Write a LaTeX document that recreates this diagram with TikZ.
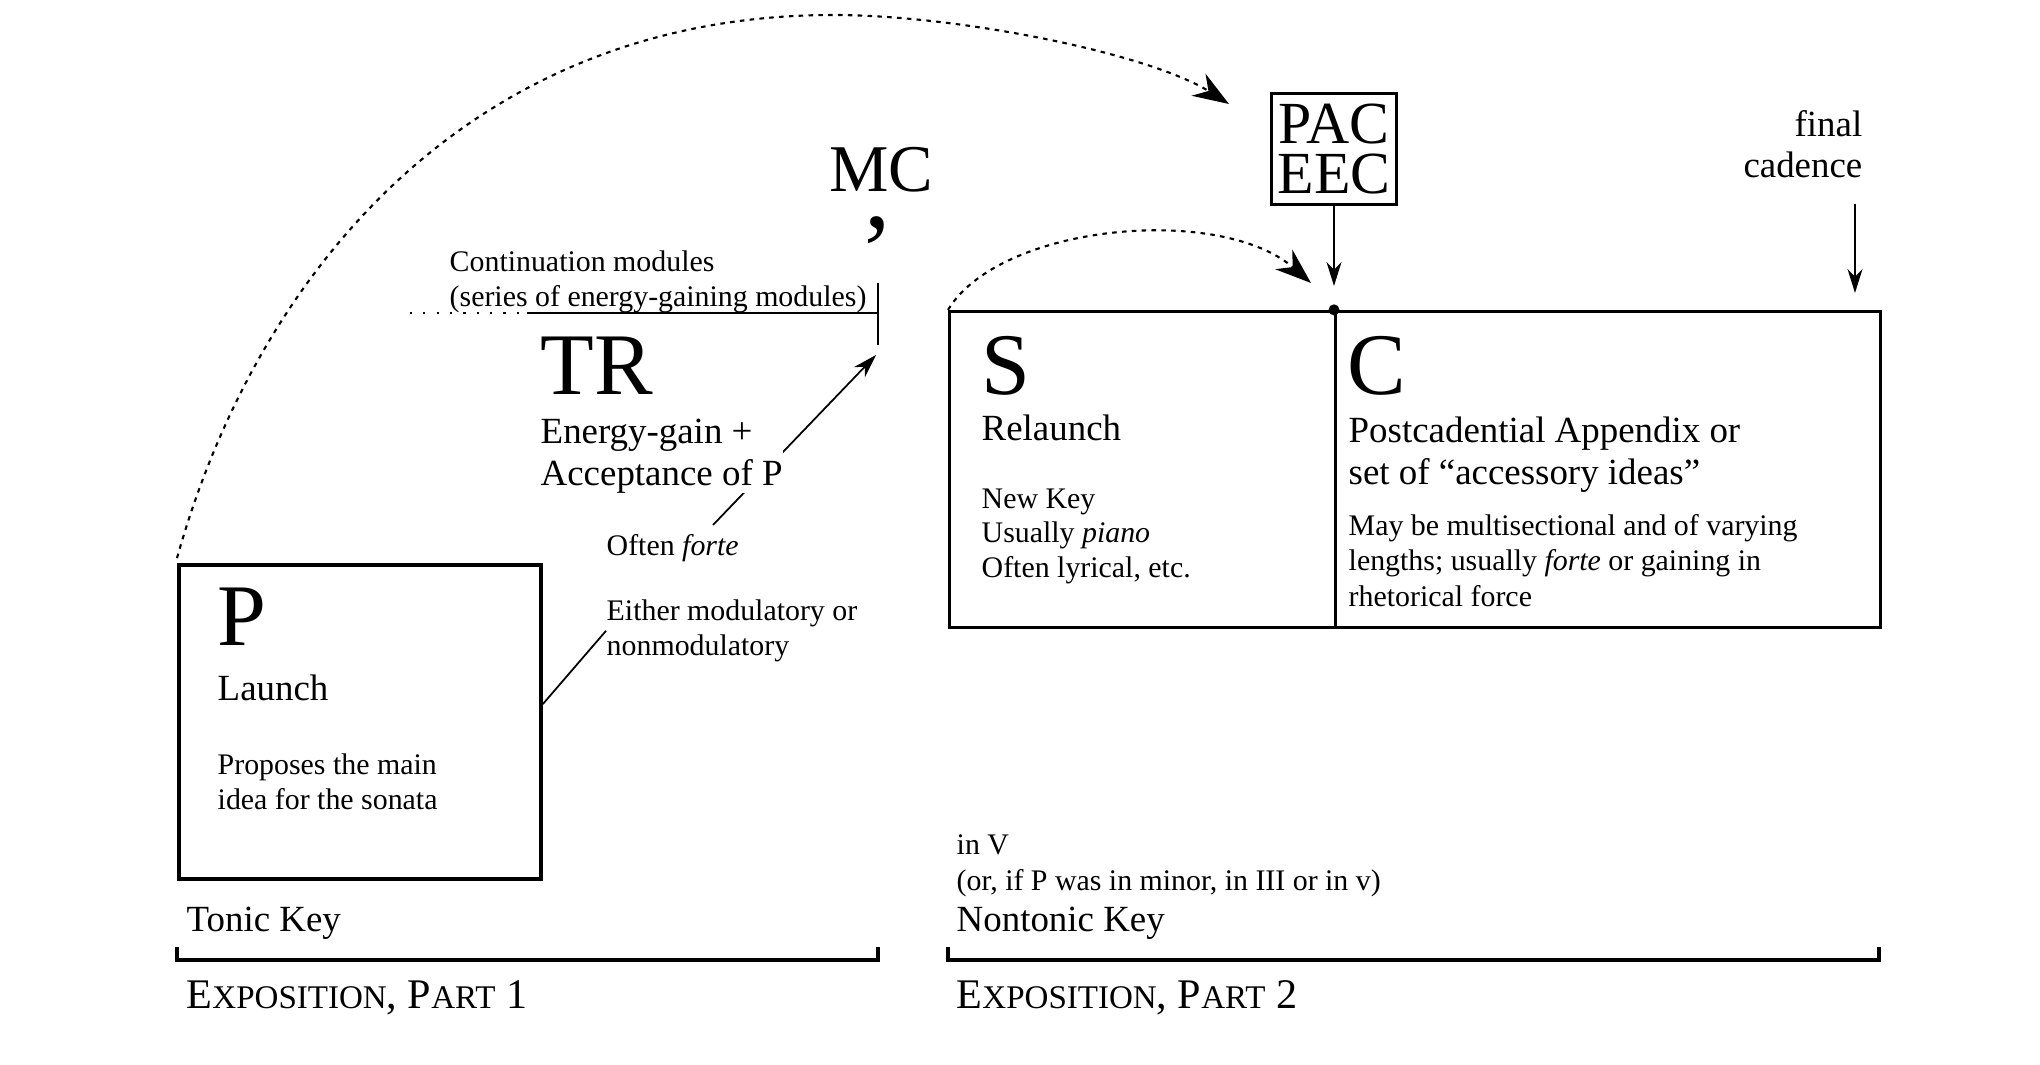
\documentclass[tikz,border=0pt]{standalone}
\usepackage{fontspec}
\setmainfont{Liberation Serif}
\usepackage{xcolor}
\usepackage{tikz}
\usetikzlibrary{arrows.meta,positioning,calc}
\newcommand{\fakesc}[1]{{\fontsize{9.4}{10}\selectfont #1}}

\begin{document}
\begin{tikzpicture}[
    txt/.style={anchor=base west, inner sep=0pt, align=left},
    bigtxt/.style={txt, font=\fontsize{25}{25}\selectfont},
    midtxt/.style={txt, font=\fontsize{10.5}{11.8}\selectfont},
    smalltxt/.style={txt, font=\fontsize{8.5}{9.7}\selectfont},
    parttxt/.style={txt, font=\fontsize{12}{14}\selectfont},
    frame/.style={draw, line width=0.9pt, minimum height=3.16cm, anchor=south west, inner sep=0pt},
    dasharc/.style={line width=0.6pt, dash pattern=on 1.3pt off 1.5pt, -{Stealth[length=3.6mm, width=2.6mm]}},
    arr/.style={line width=0.5pt, -{Stealth[length=2.4mm, width=1.5mm]}},
    brk/.style={line width=0.9pt}
]
\useasboundingbox (0,0) rectangle (20.4,10.64);

\node[frame, minimum width=3.62cm, minimum height=3.14cm, line width=1.1pt] (pbox) at (1.77,1.83) {};
\node[frame, minimum width=3.86cm] (sbox) at (9.48,4.35) {};
\node[frame, minimum width=5.45cm] (cbox) at (13.34,4.35) {};

\node[bigtxt] (pname) at (2.17,4.19) {P};
\node[midtxt] (launch) at (2.17,3.64) {Launch};
\node[smalltxt] (propose) at (2.17,2.55) {Proposes the main\\idea for the sonata};

\node[smalltxt] (contin) at (4.49,7.58) {Continuation modules\\(series of energy-gaining modules)};
\node[bigtxt] (trname) at (5.40,6.70) {TR};
\node[txt, anchor=base, font=\fontsize{19}{19}\selectfont] (mc) at (8.81,8.73) {MC};
\node[inner sep=0pt, font=\fontsize{30}{30}\selectfont] (breath) at (8.78,8.34) {,};
\node[smalltxt] (forte) at (6.06,5.09) {Often \textit{forte}};
\node[smalltxt] (modul) at (6.06,4.09) {Either modulatory or\\nonmodulatory};

\coordinate (fortetop) at (7.13,5.39);
\coordinate (mctip) at (8.76,7.09);
\draw[arr] (fortetop) -- (mctip);
\node[midtxt, fill=white] (trtext) at (5.40,5.79) {Energy-gain +\\Acceptance of P};
\draw[line width=0.5pt] ([yshift=0.18cm]pbox.east) -- (modul.west);

\draw[line width=0.5pt, dash pattern=on 0.6pt off 3.2pt] (4.10,7.51) -- (5.27,7.51);
\draw[line width=0.5pt] (5.27,7.51) -- (8.78,7.51);
\draw[line width=0.5pt] (8.78,7.81) -- (8.78,7.19);

\node[bigtxt] (sname) at (9.81,6.70) {S};
\node[midtxt] (relaunch) at (9.81,6.24) {Relaunch};
\node[smalltxt] (skey) at (9.81,4.87) {New Key\\Usually \textit{piano}\\Often lyrical, etc.};

\node[bigtxt] (cname) at (13.47,6.70) {C};
\node[midtxt] (ctitle) at (13.48,5.80) {Postcadential Appendix or\\set of “accessory ideas”};
\node[smalltxt, font=\fontsize{8.5}{10.1}\selectfont] (cdesc) at (13.48,4.58) {May be multisectional and of varying\\lengths; usually \textit{forte} or gaining in\\rhetorical force};

\node[draw, line width=0.6pt, minimum width=1.25cm, minimum height=1.11cm, inner sep=1pt, align=center, font=\fontsize{17}{14.5}\selectfont] (pac) at (13.34,9.15) {PAC\\EEC};
\node[midtxt, anchor=base east, align=right, font=\fontsize{10.5}{11.4}\selectfont] (final) at (18.63,8.87) {final\\cadence};

\coordinate (peak) at (8.33,10.49);
\coordinate (pacin) at (12.29,9.60);
\coordinate (sin) at (13.11,7.81);
\coordinate (eec) at (13.34,7.78);
\coordinate (fcstart) at (18.55,8.60);
\coordinate (fcend) at (18.55,7.71);

\draw[dasharc] ([yshift=0.05cm]pbox.north west) .. controls (2.58,7.95) and (4.73,10.49) .. (peak)
    .. controls (9.6,10.49) and (11.5,10.1) .. (pacin);
\draw[dasharc] (sbox.north west) .. controls (10.0,8.4) and (12.2,8.6) .. (sin);
\draw[arr] (pac.south) -- (eec);
\draw[arr] (fcstart) -- (fcend);
\fill (cbox.north west) circle (0.055);

\node[midtxt] (tonic) at (1.86,1.33) {Tonic Key};
\draw[brk] (1.77,1.17) -- (1.77,1.04) -- (8.78,1.04) -- (8.78,1.17);
\node[parttxt] (exp1) at (1.86,0.56) {E\fakesc{XPOSITION}, P\fakesc{ART} 1};

\node[smalltxt, font=\fontsize{8.5}{10}\selectfont] (inv) at (9.56,1.74) {in V\\(or, if P was in minor, in III or in v)};
\node[midtxt] (nontonic) at (9.56,1.33) {Nontonic Key};
\draw[brk] (9.48,1.17) -- (9.48,1.04) -- (18.79,1.04) -- (18.79,1.17);
\node[parttxt] (exp2) at (9.56,0.56) {E\fakesc{XPOSITION}, P\fakesc{ART} 2};
\end{tikzpicture}
\end{document}
